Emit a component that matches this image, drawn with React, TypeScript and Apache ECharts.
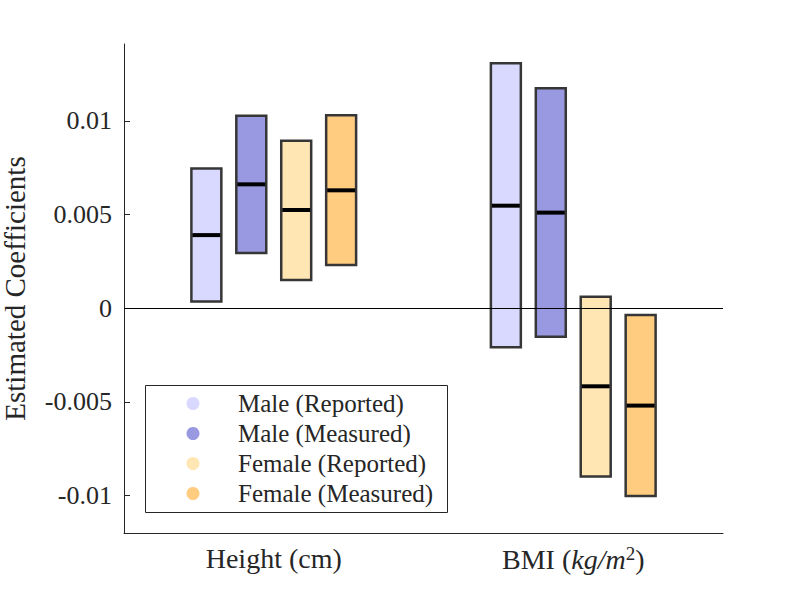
import React, { useEffect, useRef } from "react";
import * as echarts from "echarts";

// Categories on the x axis
const categories = ["Height (cm)", "BMI (kg/m^2)"];

// Series names
const seriesNames = ["Male (Reported)", "Male (Measured)", "Female (Reported)", "Female (Measured)"];

// Each row: [low, high, median] per category (Height, BMI)
const maleReported = [
  [0.00035, 0.00746, 0.0039],
  [-0.00209, 0.01307, 0.00547],
];
const maleMeasured = [
  [0.00294, 0.01027, 0.00661],
  [-0.00152, 0.01174, 0.0051],
];
const femaleReported = [
  [0.0015, 0.00893, 0.00524],
  [-0.00898, 0.00061, -0.00417],
];
const femaleMeasured = [
  [0.0023, 0.0103, 0.00629],
  [-0.01003, -0.00037, -0.0052],
];

// Y tick labels
const yTicks = [-0.01, -0.005, 0, 0.005, 0.01];

const seriesData = [maleReported, maleMeasured, femaleReported, femaleMeasured];
const colors = ["#d9d9ff", "#9999e2", "#ffe6b3", "#ffcc80"];
const offsets = [-0.225, -0.075, 0.075, 0.225];
const FONT = "Liberation Serif";
const TEXT = "#262626";

export default function App() {
  const ref = useRef<HTMLDivElement>(null);
  useEffect(() => {
    if (!ref.current) return;
    const chart = echarts.init(ref.current, null, { renderer: "svg" });
    const series: any[] = seriesData.map((rows, si) => ({
      type: "custom",
      name: seriesNames[si],
      itemStyle: { color: colors[si] },
      encode: { x: 0, y: [1, 2, 3] },
      data: rows.map((r, ci) => [ci, r[0], r[1], r[2]]),
      renderItem: (params: any, api: any) => {
        const cat = api.value(0);
        const low = api.value(1);
        const high = api.value(2);
        const med = api.value(3);
        const band = api.size([1, 0])[0];
        const cx = api.coord([cat, 0])[0] + offsets[si] * band;
        const w = band * 0.1;
        const yTop = api.coord([cat, high])[1];
        const yBot = api.coord([cat, low])[1];
        const yMed = api.coord([cat, med])[1];
        return {
          type: "group",
          children: [
            {
              type: "rect",
              shape: { x: cx - w / 2, y: yTop, width: w, height: yBot - yTop },
              style: { fill: colors[si], stroke: "#363636", lineWidth: 2.5 },
            },
            {
              type: "line",
              shape: { x1: cx - w / 2 + 1, y1: yMed, x2: cx + w / 2 - 1, y2: yMed },
              style: { stroke: "#000", lineWidth: 4 },
            },
          ],
        };
      },
      ...(si === 0
        ? {
            markLine: {
              silent: true,
              symbol: "none",
              z: 10,
              label: { show: false },
              lineStyle: { color: "#000", width: 1, type: "solid" },
              data: [{ yAxis: 0 }],
            },
          }
        : {}),
    }));

    chart.setOption({
      animation: false,
      grid: { left: 124, right: 77, top: 44, bottom: 67, containLabel: false, outerBoundsMode: "none" },
      xAxis: {
        type: "category",
        data: categories,
        axisLine: { onZero: false, lineStyle: { color: TEXT, width: 1 } },
        axisTick: { alignWithLabel: true, inside: true, length: 6, lineStyle: { color: TEXT } },
        axisLabel: {
          interval: 0,
          hideOverlap: false,
          margin: 11,
          fontFamily: FONT,
          fontSize: 28,
          color: TEXT,
          formatter: (v: string, i: number) =>
            i === 1 ? "{n|BMI (}{i|kg/m}{s|2}{n|)}" : v,
          rich: {
            n: { fontFamily: FONT, fontSize: 28, color: TEXT },
            i: { fontFamily: FONT, fontSize: 28, color: TEXT, fontStyle: "italic" },
            s: { fontFamily: FONT, fontSize: 19, color: TEXT, padding: [0, 0, 12, 0] },
          },
        },
        splitLine: { show: false },
      },
      yAxis: {
        type: "value",
        min: -0.012,
        max: 0.0141,
        name: "Estimated Coefficients",
        nameLocation: "middle",
        nameGap: 95,
        nameMoveOverlap: false,
        nameTextStyle: { fontFamily: FONT, fontSize: 29, color: TEXT },
        axisLine: { show: true, lineStyle: { color: TEXT, width: 1 } },
        axisTick: { show: true, inside: true, length: 6, customValues: yTicks, lineStyle: { color: TEXT } },
        axisLabel: {
          customValues: yTicks,
          margin: 12,
          fontFamily: FONT,
          fontSize: 26,
          color: TEXT,
          formatter: (v: number) => String(v),
        },
        splitLine: { show: false },
      },
      legend: {
        orient: "vertical",
        left: 186.5,
        top: 391,
        padding: 0,
        itemWidth: 80,
        itemHeight: 13,
        itemGap: 5,
        icon: "circle",
        z: 6,
        data: seriesNames,
        textStyle: { fontFamily: FONT, fontSize: 25, color: TEXT, lineHeight: 20, padding: [0, 0, 0, 0] },
      },
      graphic: [
        {
          type: "rect",
          z: 5,
          shape: { x: 145.5, y: 385.5, width: 302, height: 127 },
          style: { fill: "#fff", stroke: TEXT, lineWidth: 1 },
        },
      ],
      series,
    });
    return () => chart.dispose();
  }, []);
  return (
    <div
      ref={ref}
      style={{ position: "fixed", left: 0, top: 0, width: 800, height: 600, background: "#fff" }}
    />
  );
}
